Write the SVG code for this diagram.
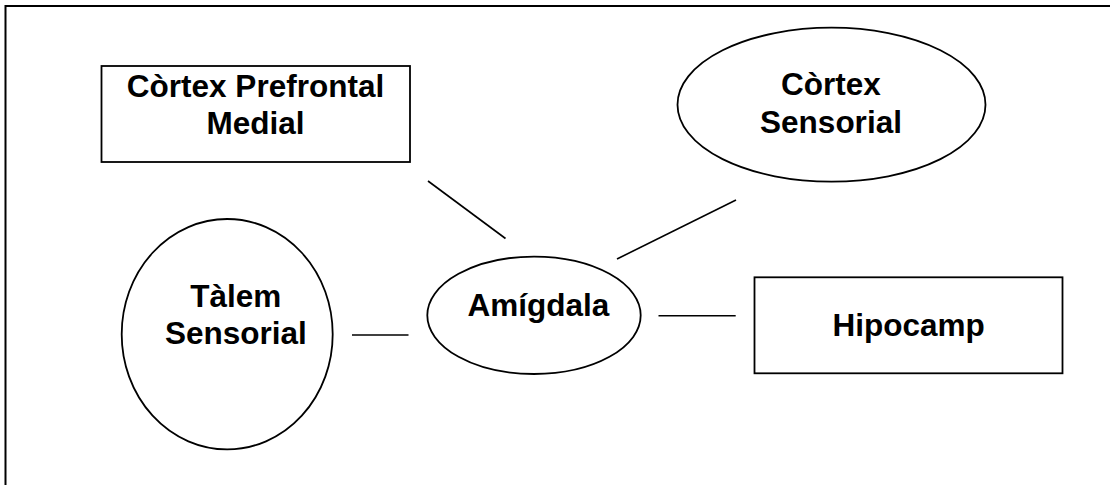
<svg xmlns="http://www.w3.org/2000/svg" width="1110" height="485" viewBox="0 0 1110 485">
<style>
.shape{fill:#fff;stroke:#000;stroke-width:1.8}
.edge{stroke:#000;stroke-width:1.6;fill:none}
.lbl{font-family:"Liberation Sans",Arial,sans-serif;font-weight:bold;font-size:31.5px;fill:#000;text-anchor:middle}
</style>
<rect width="1110" height="485" fill="#fff"/>
<path d="M5.5 485 V6 H1110" fill="none" stroke="#000" stroke-width="2"/>
<g id="connectors">
<line class="edge" x1="428" y1="181" x2="505.5" y2="238.5"/>
<line class="edge" x1="736" y1="200" x2="617" y2="259"/>
<line class="edge" x1="352" y1="335" x2="408.5" y2="335"/>
<line class="edge" x1="658.5" y1="315.7" x2="735.7" y2="315.7"/>
</g>
<g id="prefrontal">
<rect class="shape" x="101.5" y="66" width="308.5" height="96"/>
<text class="lbl" x="255.5" y="96.5">Còrtex Prefrontal</text>
<text class="lbl" x="255.5" y="133.5">Medial</text>
</g>
<g id="cortex-sensorial">
<ellipse class="shape" cx="831.5" cy="104.7" rx="154" ry="77"/>
<text class="lbl" x="831" y="95">Còrtex</text>
<text class="lbl" x="831" y="132.5">Sensorial</text>
</g>
<g id="talem">
<ellipse class="shape" cx="227.2" cy="334.2" rx="105.5" ry="115.2"/>
<text class="lbl" x="235.8" y="306.7">Tàlem</text>
<text class="lbl" x="235.8" y="344">Sensorial</text>
</g>
<g id="amigdala">
<ellipse class="shape" cx="534" cy="315.3" rx="106.7" ry="58.7"/>
<text class="lbl" x="538.5" y="316">Amígdala</text>
</g>
<g id="hipocamp">
<rect class="shape" x="754.5" y="277.3" width="308" height="96"/>
<text class="lbl" x="908.7" y="335.7">Hipocamp</text>
</g>
</svg>
